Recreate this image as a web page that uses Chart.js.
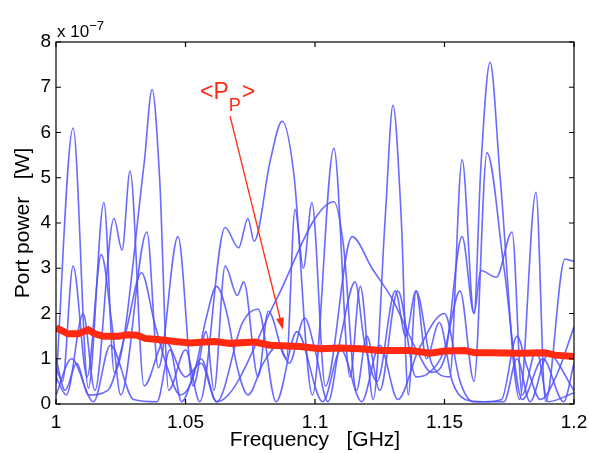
<!DOCTYPE html>
<html>
<head>
<meta charset="utf-8">
<script src="https://cdn.jsdelivr.net/npm/chart.js@4.4.1/dist/chart.umd.min.js"></script>
<style>
  html, body { margin: 0; padding: 0; background: #fff; }
  #wrap { width: 589px; height: 453px; }
</style>
</head>
<body>
<div id="wrap"><canvas id="portChart" width="589" height="453"></canvas></div>
<script>
// frequency [GHz] / port power [x 1e-7 W]
var port1F = [1.000, 1.0066, 1.0125, 1.0185, 1.0225, 1.0340, 1.0371, 1.0400, 1.0435, 1.0500, 1.0555, 1.0653, 1.0705, 1.0741, 1.0765, 1.0828, 1.0873, 1.0918, 1.0990, 1.1073, 1.1135, 1.1175, 1.1225, 1.1272, 1.1301, 1.1333, 1.1360, 1.1390, 1.1450, 1.1520, 1.1568, 1.1614, 1.1640, 1.1676, 1.1715, 1.1790, 1.1853, 1.1890, 1.1965, 1.2000];
var port1P = [0.45, 6.1, 0.35, 4.45, 0.7, 5.3, 6.95, 5.0, 0.3, 1.2, 0.05, 3.9, 3.45, 4.1, 3.6, 5.4, 6.25, 5.1, 0.2, 5.65, 0.6, 2.6, 0.1, 4.2, 6.6, 4.1, 0.2, 2.5, 0.9, 0.6, 5.4, 2.0, 5.2, 7.55, 5.0, 0.1, 4.68, 0.05, 3.2, 3.15];

var port2F = [1.000, 1.0025, 1.0066, 1.0120, 1.0175, 1.0215, 1.0250, 1.0351, 1.0395, 1.0471, 1.0530, 1.0580, 1.0610, 1.0653, 1.0700, 1.0725, 1.0780, 1.0820, 1.0890, 1.0923, 1.0955, 1.0988, 1.1040, 1.1143, 1.1220, 1.1300, 1.1400, 1.1450, 1.1500, 1.1568, 1.1614, 1.1640, 1.1700, 1.1761, 1.1800, 1.1855, 1.1900, 1.2000];
var port2P = [0.8, 0.5, 3.05, 0.6, 3.3, 1.8, 0.2, 3.8, 0.8, 3.7, 0.4, 1.6, 0.3, 3.05, 2.4, 2.7, 0.6, 2.05, 1.0, 4.3, 3.0, 4.45, 0.4, 3.7, 3.0, 2.3, 1.1, 0.7, 1.0, 3.7, 2.0, 2.95, 2.8, 3.8, 0.2, 1.2, 0.05, 0.25];

var port3F = [1.000, 1.0060, 1.0145, 1.0210, 1.0300, 1.0390, 1.0440, 1.0485, 1.0560, 1.0620, 1.0720, 1.0780, 1.0850, 1.0930, 1.1030, 1.1100, 1.1180, 1.1250, 1.1320, 1.1400, 1.1500, 1.1560, 1.1610, 1.1730, 1.1780, 1.1830, 1.1900, 1.2000];
var port3P = [0.2, 1.0, 0.05, 1.3, 0.1, 0.05, 1.2, 0.05, 1.0, 0.05, 1.8, 2.1, 0.05, 1.6, 0.05, 1.2, 0.05, 1.3, 0.1, 1.2, 2.0, 0.5, 0.05, 0.05, 1.0, 0.05, 1.1, 0.3];

var port4F = [1.000, 1.0040, 1.0105, 1.0150, 1.0224, 1.0255, 1.0286, 1.0340, 1.0420, 1.0500, 1.0560, 1.0620, 1.0850, 1.1000, 1.1073, 1.1110, 1.1160, 1.1200, 1.1250, 1.1320, 1.1390, 1.1430, 1.1500, 1.1560, 1.1614, 1.1664, 1.1730, 1.1800, 1.1880, 1.1960, 1.2000];
var port4P = [0.6, 0.2, 2.0, 0.3, 4.1, 3.4, 5.15, 0.4, 1.4, 0.6, 0.9, 0.05, 2.3, 4.1, 4.47, 3.5, 0.3, 1.5, 0.3, 2.5, 0.6, 0.65, 1.2, 2.5, 0.5, 5.55, 3.0, 0.1, 1.0, 0.05, 0.9];

var port5F = [1.000, 1.0035, 1.0080, 1.0125, 1.0200, 1.0270, 1.0330, 1.0380, 1.0430, 1.0480, 1.0530, 1.0580, 1.0620, 1.0660, 1.0700, 1.0741, 1.0800, 1.0860, 1.0900, 1.0960, 1.1000, 1.1050, 1.1100, 1.1155, 1.1190, 1.1240, 1.1310, 1.1350, 1.1390, 1.1430, 1.1480, 1.1530, 1.1580, 1.1650, 1.1720, 1.1780, 1.1820, 1.1870, 1.1930, 1.2000];
var port5P = [1.0, 0.3, 0.9, 0.2, 0.3, 1.6, 2.9, 1.8, 0.8, 0.2, 0.6, 1.9, 2.6, 2.0, 0.8, 0.2, 0.9, 1.3, 0.9, 1.9, 1.2, 0.05, 1.5, 2.7, 1.4, 0.5, 2.5, 1.5, 2.5, 1.0, 1.8, 0.5, 0.1, 0.05, 0.1, 1.5, 0.8, 0.1, 0.6, 1.7];

// average port power <P_P>
var avgF = [1.000, 1.0023, 1.0046, 1.0085, 1.0108, 1.0124, 1.0150, 1.0181, 1.0240, 1.0278, 1.0313, 1.0344, 1.0402, 1.0460, 1.0517, 1.0575, 1.0614, 1.0672, 1.0768, 1.0826, 1.0942, 1.1019, 1.1097, 1.1174, 1.1251, 1.1367, 1.1444, 1.1502, 1.1579, 1.1618, 1.1676, 1.1792, 1.1888, 1.1927, 1.2000];
var avgP = [1.68, 1.62, 1.55, 1.55, 1.6, 1.64, 1.55, 1.5, 1.5, 1.53, 1.52, 1.45, 1.42, 1.38, 1.35, 1.37, 1.38, 1.34, 1.37, 1.3, 1.27, 1.22, 1.24, 1.22, 1.18, 1.18, 1.12, 1.17, 1.18, 1.13, 1.13, 1.12, 1.13, 1.08, 1.05];

var xTicks = [1, 1.05, 1.1, 1.15, 1.2];
var xTickLabels = ['1', '1.05', '1.1', '1.15', '1.2'];
var yTickLabels = ['0', '1', '2', '3', '4', '5', '6', '7', '8'];

// arrow of the <P_P> label, in data units: [freq, power]
var arrowFrom = [1.0672, 6.36];
var arrowTo = [1.0876, 1.64];
var labelAt = [1.0556, 6.75];

function pts(f, p) {
    return f.map(function(v, i) { return { x: v, y: p[i] }; });
}

var blue = 'rgba(80, 80, 255, 0.85)';
var red = '#ff2a10';
var font = '"Liberation Sans", Arial, sans-serif';

function blueSet(f, p) {
    return {
        data: pts(f, p),
        borderColor: blue,
        borderWidth: 1.6,
        pointRadius: 0,
        cubicInterpolationMode: 'monotone',
        order: 1
    };
}

// MATLAB-like box with ticks pointing inwards, plus the label and arrow
var boxPlugin = {
    id: 'box',
    afterDatasetsDraw: function(chart) {
        var ctx = chart.ctx;
        var a = chart.chartArea;
        var xs = chart.scales.x, ys = chart.scales.y;
        ctx.save();
        ctx.strokeStyle = '#000';
        ctx.lineWidth = 1.2;
        ctx.strokeRect(a.left, a.top, a.right - a.left, a.bottom - a.top);
        ctx.beginPath();
        xTicks.forEach(function(t) {
            var x = xs.getPixelForValue(t);
            ctx.moveTo(x, a.bottom); ctx.lineTo(x, a.bottom - 5);
            ctx.moveTo(x, a.top); ctx.lineTo(x, a.top + 5);
        });
        yTickLabels.forEach(function(t, i) {
            var y = ys.getPixelForValue(i);
            ctx.moveTo(a.left, y); ctx.lineTo(a.left + 5, y);
            ctx.moveTo(a.right, y); ctx.lineTo(a.right - 5, y);
        });
        ctx.stroke();

        // exponent
        ctx.fillStyle = '#000';
        ctx.textBaseline = 'alphabetic';
        ctx.textAlign = 'left';
        ctx.font = '17px ' + font;
        ctx.fillText('x 10', a.left + 1, a.top - 5);
        var wx = ctx.measureText('x 10').width;
        ctx.font = '13px ' + font;
        ctx.fillText('\u22127', a.left + 1 + wx, a.top - 12);

        // <P_P> label
        var lx = xs.getPixelForValue(labelAt[0]), ly = ys.getPixelForValue(labelAt[1]);
        ctx.fillStyle = red;
        ctx.font = '23px ' + font;
        ctx.fillText('<P', lx, ly);
        var w1 = ctx.measureText('<P').width;
        ctx.font = '18px ' + font;
        ctx.fillText('P', lx + w1, ly + 12);
        var w2 = ctx.measureText('P').width;
        ctx.font = '23px ' + font;
        ctx.fillText('>', lx + w1 + w2 + 1, ly);

        // arrow
        var x0 = xs.getPixelForValue(arrowFrom[0]), y0 = ys.getPixelForValue(arrowFrom[1]);
        var x1 = xs.getPixelForValue(arrowTo[0]), y1 = ys.getPixelForValue(arrowTo[1]);
        var ang = Math.atan2(y1 - y0, x1 - x0);
        ctx.strokeStyle = red;
        ctx.lineWidth = 1.3;
        ctx.beginPath();
        ctx.moveTo(x0, y0);
        ctx.lineTo(x1 - 8 * Math.cos(ang), y1 - 8 * Math.sin(ang));
        ctx.stroke();
        ctx.beginPath();
        ctx.moveTo(x1, y1);
        ctx.lineTo(x1 - 12 * Math.cos(ang) + 4 * Math.sin(ang), y1 - 12 * Math.sin(ang) - 4 * Math.cos(ang));
        ctx.lineTo(x1 - 12 * Math.cos(ang) - 4 * Math.sin(ang), y1 - 12 * Math.sin(ang) + 4 * Math.cos(ang));
        ctx.closePath();
        ctx.fill();
        ctx.restore();
    }
};

var ctx = document.getElementById('portChart').getContext('2d');
new Chart(ctx, {
    type: 'line',
    data: {
        datasets: [
            {
                data: pts(avgF, avgP),
                borderColor: red,
                borderWidth: 7,
                pointRadius: 0,
                tension: 0,
                order: 0
            },
            blueSet(port1F, port1P),
            blueSet(port2F, port2P),
            blueSet(port3F, port3P),
            blueSet(port4F, port4P),
            blueSet(port5F, port5P)
        ]
    },
    options: {
        responsive: false,
        animation: false,
        layout: { padding: { top: 42, right: 15, left: 0, bottom: 0 } },
        plugins: { legend: { display: false }, tooltip: { enabled: false } },
        scales: {
            x: {
                type: 'linear',
                min: 1,
                max: 1.2,
                afterFit: function(s) { s.height = 49; s.paddingLeft = 0; s.paddingRight = 0; },
                afterBuildTicks: function(s) { s.ticks = xTicks.map(function(v) { return { value: v }; }); },
                grid: { display: false, drawTicks: false },
                border: { display: false },
                ticks: {
                    color: '#000',
                    padding: 7,
                    maxRotation: 0,
                    font: { family: font, size: 19 },
                    callback: function(v) { return xTickLabels[Math.round((v - 1) / 0.05)]; }
                },
                title: {
                    display: true,
                    text: 'Frequency   [GHz]',
                    color: '#000',
                    padding: { top: 3, bottom: 0 },
                    font: { family: font, size: 21 }
                }
            },
            y: {
                min: 0,
                max: 8,
                afterFit: function(s) { s.width = 56; s.paddingTop = 0; s.paddingBottom = 0; },
                grid: { display: false, drawTicks: false },
                border: { display: false },
                ticks: {
                    color: '#000',
                    padding: 5,
                    stepSize: 1,
                    font: { family: font, size: 19 },
                    callback: function(v) { return yTickLabels[v]; }
                },
                title: {
                    display: true,
                    text: 'Port power   [W]',
                    color: '#000',
                    padding: { top: 11, bottom: 0 },
                    font: { family: font, size: 21 }
                }
            }
        }
    },
    plugins: [boxPlugin]
});
</script>
</body>
</html>
